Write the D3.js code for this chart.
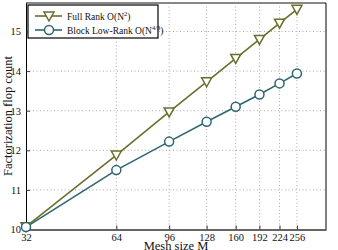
<!DOCTYPE html>
<html><head><meta charset="utf-8">
<script src="https://cdn.jsdelivr.net/npm/d3@7/dist/d3.min.js"></script>
<style>body{margin:0;background:#fff}svg{display:block}svg text{font-family:"Liberation Serif","DejaVu Serif",serif !important}</style>
</head><body>
<svg id="c" width="338" height="250"></svg>
<script>
const meshSizes = [32, 64, 96, 128, 160, 192, 224, 256];
const fullRank = [10.07, 11.88, 12.97, 13.73, 14.32, 14.80, 15.21, 15.56];
const blockLowRank = [10.06, 11.50, 12.22, 12.72, 13.10, 13.41, 13.69, 13.94];
const xTicks = [32, 64, 96, 128, 160, 192, 224, 256];
const yTicks = [10, 11, 12, 13, 14, 15];

const svg = d3.select("#c");
const L = 26, R = 326, T = 3, B = 229.5;
const x = d3.scaleLog().base(2).domain([32, 320]).range([L, R]);
const y = d3.scaleLinear().domain([10, 15.72]).range([B, T]);
const cFull = "#6b6e2c", cLow = "#2d6770";

// grid
svg.append("g").selectAll("line").data(xTicks.slice(1)).join("line")
  .attr("x1", d => x(d)).attr("x2", d => x(d)).attr("y1", T).attr("y2", B)
  .attr("stroke", "#aaa").attr("stroke-width", 1).attr("stroke-dasharray", "1,2.5");
svg.append("g").selectAll("line").data(yTicks.slice(1)).join("line")
  .attr("x1", L).attr("x2", R).attr("y1", d => y(d)).attr("y2", d => y(d))
  .attr("stroke", "#aaa").attr("stroke-width", 1).attr("stroke-dasharray", "1,2.5");

// frame
svg.append("line").attr("x1", L).attr("x2", R).attr("y1", T).attr("y2", T).attr("stroke", "#888").attr("stroke-width", 2);
svg.append("line").attr("x1", R).attr("x2", R).attr("y1", T).attr("y2", B).attr("stroke", "#000").attr("stroke-width", 1);

// axes
const xAxis = d3.axisBottom(x).tickValues(xTicks).tickFormat(d3.format("d")).tickSizeInner(-4).tickSizeOuter(0).tickPadding(4);
const gx = svg.append("g").attr("transform", `translate(0,${B})`).call(xAxis);
gx.attr("font-family", null);
gx.select(".domain").attr("stroke", "#333").attr("stroke-width", 1.5);
gx.selectAll(".tick line").attr("stroke", "#333");
gx.selectAll("text").attr("font-size", 10.5).attr("fill", "#111");

const yAxis = d3.axisLeft(y).tickValues(yTicks).tickFormat(d3.format("d")).tickSizeInner(-4).tickSizeOuter(0).tickPadding(5);
const gy = svg.append("g").attr("transform", `translate(${L},0)`).call(yAxis);
gy.attr("font-family", null);
gy.select(".domain").attr("stroke", "#000");
gy.selectAll(".tick line").attr("stroke", "#333");
gy.selectAll("text").attr("font-size", 10.5).attr("fill", "#111");

// series
const line = d3.line().x((d, i) => x(meshSizes[i])).y(d => y(d));
svg.append("path").datum(fullRank).attr("d", line).attr("fill", "none").attr("stroke", cFull).attr("stroke-width", 1.6);
svg.append("path").datum(blockLowRank).attr("d", line).attr("fill", "none").attr("stroke", cLow).attr("stroke-width", 1.6);

const tri = "M-5,-4L5,-4L0,5Z";
svg.append("g").selectAll("path").data(fullRank).join("path")
  .attr("d", tri).attr("transform", (d, i) => `translate(${x(meshSizes[i])},${y(d)})`)
  .attr("fill", "#fff").attr("stroke", cFull).attr("stroke-width", 1.5);
svg.append("g").selectAll("circle").data(blockLowRank).join("circle")
  .attr("cx", (d, i) => x(meshSizes[i])).attr("cy", d => y(d)).attr("r", 4.5)
  .attr("fill", "#fff").attr("stroke", cLow).attr("stroke-width", 1.5);

// legend
const lg = svg.append("g");
lg.append("rect").attr("x", 28).attr("y", 5).attr("width", 130).attr("height", 33)
  .attr("fill", "#fff").attr("stroke", "#000").attr("stroke-width", 1.2);
const items = [
  {c: cFull, y: 16, m: "tri", t: ["Full Rank O(N", "2", ")"]},
  {c: cLow, y: 30, m: "circ", t: ["Block Low-Rank O(N", "4/3", ")"]}
];
items.forEach(it => {
  lg.append("line").attr("x1", 35).attr("x2", 62).attr("y1", it.y).attr("y2", it.y).attr("stroke", it.c).attr("stroke-width", 1.6);
  if (it.m === "tri") lg.append("path").attr("d", tri).attr("transform", `translate(49,${it.y})`).attr("fill", "#fff").attr("stroke", it.c).attr("stroke-width", 1.5);
  else lg.append("circle").attr("cx", 49).attr("cy", it.y).attr("r", 4.5).attr("fill", "#fff").attr("stroke", it.c).attr("stroke-width", 1.5);
  const tx = lg.append("text").attr("x", 67).attr("y", it.y + 3.5).attr("font-size", 9.5).attr("fill", "#111");
  tx.append("tspan").text(it.t[0]);
  tx.append("tspan").attr("dy", -4).attr("font-size", 6.5).text(it.t[1]);
  tx.append("tspan").attr("dy", 4).text(it.t[2]);
});

// axis titles
svg.append("text").attr("x", 176).attr("y", 249.5).attr("text-anchor", "middle").attr("font-size", 12.5).attr("fill", "#111").text("Mesh size M");
svg.append("text").attr("transform", "translate(12,116) rotate(-90)").attr("text-anchor", "middle").attr("font-size", 12.5).attr("fill", "#111").text("Factorization flop count");
</script>
</body></html>
